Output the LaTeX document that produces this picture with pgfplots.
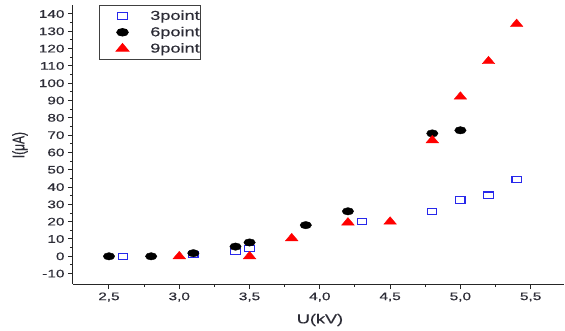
\documentclass[border=0pt]{standalone}
\usepackage{fontspec}
\setmainfont[FakeStretch=1.4, FakeBold=0.4]{Liberation Sans}
\newfontfamily\plainsans[FakeBold=0.4]{Liberation Sans}
\usepackage{graphicx}
\usepackage{pgfplots}
\pgfplotsset{compat=1.18}
\definecolor{ticktext}{RGB}{45,45,55}
\definecolor{sqblue}{RGB}{40,40,235}
\begin{document}
\begin{tikzpicture}
\begin{axis}[
  name=ax,
  scale only axis=true,
  width=491bp, height=279bp,
  xmin=2.244, xmax=5.737,
  ymin=-16, ymax=145.2,
  axis x line=bottom, axis y line=left,
  axis line style={-, black!85, line width=1bp},
  tick align=outside,
  tick style={black!85, line width=1bp},
  major tick length=5bp, minor tick length=3bp,
  xtick={2.5,3.0,...,5.5},
  ytick={-10,0,...,140},
  minor x tick num=1, minor y tick num=1,
  /pgf/number format/assume math mode=true,
  xticklabel style={/pgf/number format/.cd, fixed, fixed zerofill, precision=1, use comma},
  yticklabel style={/pgf/number format/.cd, fixed, precision=0},
  tick label style={font=\fontsize{11}{12}\selectfont, text=ticktext},
  xlabel={\fontsize{13}{14}\selectfont U(kV)},
  ylabel={\plainsans\fontsize{12}{13}\selectfont\scalebox{1}[1.4]{I(μA)}},
  xlabel style={at={(axis description cs:0.503,-0.129)}, anchor=center, text=ticktext},
  ylabel style={at={(axis description cs:-0.108,0.498)}, anchor=center, rotate=0, text=ticktext},
  legend style={at={(0.053,1.0)}, anchor=north west, draw=black!75, line width=1bp,
    font=\fontsize{13}{14}\selectfont, text=ticktext, row sep=1.5bp, inner xsep=0bp, inner ysep=3bp,
    nodes={inner xsep=0.5bp},
    /tikz/every odd column/.append style={column sep=21bp}},
  legend image code/.code={%
    \path[draw=none] (0bp,0bp) -- (26bp,0bp);
    \draw[only marks, #1, draw=none] plot[draw=none] coordinates {(23bp,0bp)};},
  legend cell align=left,
  clip=false,
]
\addplot[only marks, color=sqblue, mark=square, mark size=3.2bp,
  mark options={draw=sqblue, fill=white, line width=1.1bp, xscale=1.45}]
  coordinates {(2.6,0) (3.1,1) (3.4,2.8) (3.5,4.5) (4.3,20) (4.8,26) (5.0,32.5) (5.2,35.3) (5.4,44.5)};
\addlegendentry{3point}
\addplot[only marks, color=black, mark=*, mark size=3.7bp,
  mark options={draw=black, fill=black, xscale=1.55}]
  coordinates {(2.5,0) (2.8,0) (3.1,1.8) (3.4,5.6) (3.5,8) (3.9,18) (4.2,26) (4.8,71) (5.0,72.8)};
\addlegendentry{6point}
\addplot[only marks, color=red, mark=triangle*, mark size=5bp,
  mark options={draw=red, fill=red, xscale=1.45}]
  coordinates {(3.0,0) (3.5,0) (3.8,10.4) (4.2,19.5) (4.5,20) (4.8,67) (5.0,92.2) (5.2,112.7) (5.4,134.2)};
\addlegendentry{9point}
\end{axis}
\pgfresetboundingbox
\path ([shift={(-73bp,-47bp)}]ax.south west) rectangle ([shift={(1bp,5bp)}]ax.north east);
\end{tikzpicture}
\end{document}
